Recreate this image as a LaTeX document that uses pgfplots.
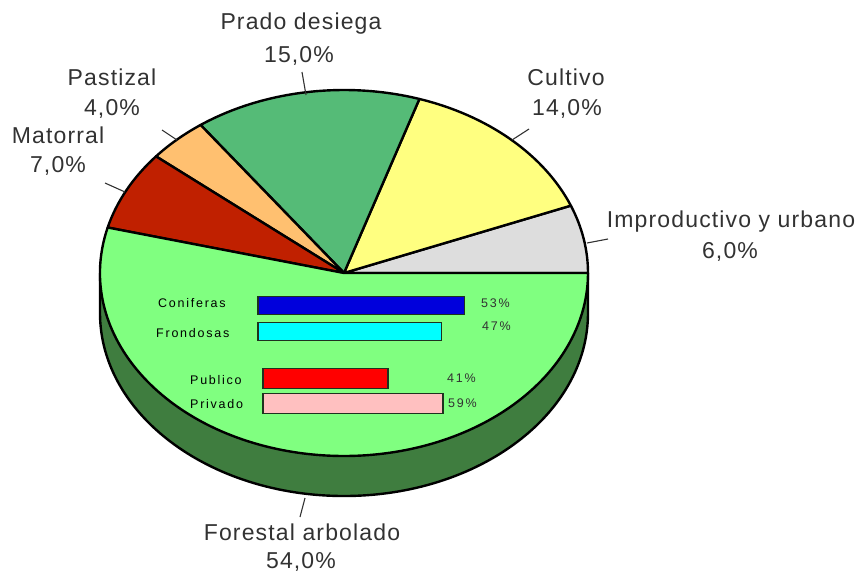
\documentclass[border=0pt]{standalone}
\usepackage{fontspec}
\setmainfont{Liberation Sans}
\newfontfamily\labfont[LetterSpace=5]{Liberation Sans}
\newfontfamily\smlfont[LetterSpace=14]{Liberation Sans}
\usepackage{pgfplots}
\pgfplotsset{compat=1.18}
\definecolor{fgreen}{RGB}{128,255,128}
\definecolor{sidegreen}{RGB}{63,125,63}
\definecolor{mred}{RGB}{192,32,0}
\definecolor{porange}{RGB}{255,192,112}
\definecolor{pgreen}{RGB}{85,187,119}
\definecolor{lyellow}{RGB}{255,255,128}
\definecolor{lgray}{RGB}{221,221,221}
\definecolor{cblue}{RGB}{0,0,220}
\definecolor{ccyan}{RGB}{0,255,255}
\definecolor{cred}{RGB}{255,0,0}
\definecolor{cpink}{RGB}{255,192,192}
\definecolor{bardark}{RGB}{30,50,30}
\definecolor{txt}{RGB}{50,50,50}
% slice values (percent), counter-clockwise from the right
\def\slices{6/lgray, 14/lyellow, 15/pgreen, 4/porange, 7/mred, 54/fgreen}
\begin{document}
\begin{tikzpicture}
\path[use as bounding box] (0,0) rectangle (857pt,-574pt);
% ---------- pie ----------
\begin{axis}[at={(344pt,-273pt)}, anchor=center, scale only axis,
  width=488pt, height=366pt, xmin=-1, xmax=1, ymin=-1, ymax=1,
  hide axis, clip=false]
\pgfplotsextra{
  \fill[sidegreen] (axis cs:-1,0) arc[start angle=180, end angle=360, x radius=244pt, y radius=183pt]
     -- ++(0pt,-40pt) arc[start angle=0, end angle=-180, x radius=244pt, y radius=183pt] -- cycle;
  \draw[black, line width=2.4pt, line join=round] (axis cs:-1,0) -- ++(0pt,-40pt)
     arc[start angle=180, end angle=360, x radius=244pt, y radius=183pt] -- ++(0pt,40pt);
  \xdef\cum{0}
  \foreach \v/\c in \slices {
    \pgfmathsetmacro\a{\cum*3.6}
    \pgfmathsetmacro\newcum{\cum+\v}
    \pgfmathsetmacro\b{\newcum*3.6}
    \filldraw[fill=\c, draw=black, line width=2.4pt, line join=round]
      (axis cs:0,0) -- (axis cs:{cos(\a)},{sin(\a)})
      arc[start angle=\a, end angle=\b, x radius=244pt, y radius=183pt] -- cycle;
    \xdef\cum{\newcum}
  }
}
\end{axis}
% ---------- inner bars: species ----------
\begin{axis}[at={(258pt,-344.5pt)}, anchor=south west, scale only axis,
  width=390pt, height=52pt, xmin=0, xmax=100, ymin=0.5, ymax=2.5,
  hide axis, xbar, bar width=17.5pt, bar shift=0pt, clip=false]
\addplot[fill=cblue, draw=bardark, line width=1.3pt] coordinates {(53,2)};
\addplot[fill=ccyan, draw=bardark, line width=1.3pt] coordinates {(47,1)};
\end{axis}
% ---------- inner bars: ownership ----------
\begin{axis}[at={(263pt,-416pt)}, anchor=south west, scale only axis,
  width=305pt, height=50pt, xmin=0, xmax=100, ymin=0.5, ymax=2.5,
  hide axis, xbar, bar width=19.5pt, bar shift=0pt, clip=false]
\addplot[fill=cred, draw=bardark, line width=1.3pt] coordinates {(41,2)};
\addplot[fill=cpink, draw=bardark, line width=1.3pt] coordinates {(59,1)};
\end{axis}
% ---------- bar labels ----------
\begin{scope}[every node/.style={inner sep=0pt, anchor=base west, font=\smlfont\fontsize{12.5}{14}\selectfont}]
\node[text=black] at (158pt,-307pt) {Coniferas};
\node[text=black] at (156pt,-337pt) {Frondosas};
\node[text=black] at (190pt,-384pt) {Publico};
\node[text=black] at (190pt,-408pt) {Privado};
\node[text=txt] at (481pt,-307pt) {53\%};
\node[text=txt] at (482pt,-330pt) {47\%};
\node[text=txt] at (447pt,-382pt) {41\%};
\node[text=txt] at (448pt,-407pt) {59\%};
\end{scope}
% ---------- leader lines ----------
\begin{scope}[draw=txt, line width=1.1pt]
\draw (306pt,-95pt) -- (302pt,-72pt);
\draw (177pt,-140pt) -- (162pt,-130pt);
\draw (125pt,-192pt) -- (105pt,-183pt);
\draw (512pt,-140pt) -- (529pt,-129pt);
\draw (587pt,-243pt) -- (608pt,-239pt);
\draw (305pt,-498pt) -- (300pt,-517pt);
\end{scope}
% ---------- slice labels ----------
\begin{scope}[every node/.style={inner sep=0pt, anchor=base, text=txt, font=\labfont\fontsize{23}{27}\selectfont}]
\node at (301pt,-29pt) {Prado desiega};
\node at (299pt,-62pt) {15,0\%};
\node at (112pt,-85pt) {Pastizal};
\node at (112pt,-115pt) {4,0\%};
\node at (58pt,-143pt) {Matorral};
\node at (58pt,-172pt) {7,0\%};
\node at (566pt,-85pt) {Cultivo};
\node at (567pt,-115pt) {14,0\%};
\node at (731pt,-227pt) {Improductivo y urbano};
\node at (730pt,-258pt) {6,0\%};
\node at (302pt,-540pt) {Forestal arbolado};
\node at (301pt,-568pt) {54,0\%};
\end{scope}
\end{tikzpicture}
\end{document}
